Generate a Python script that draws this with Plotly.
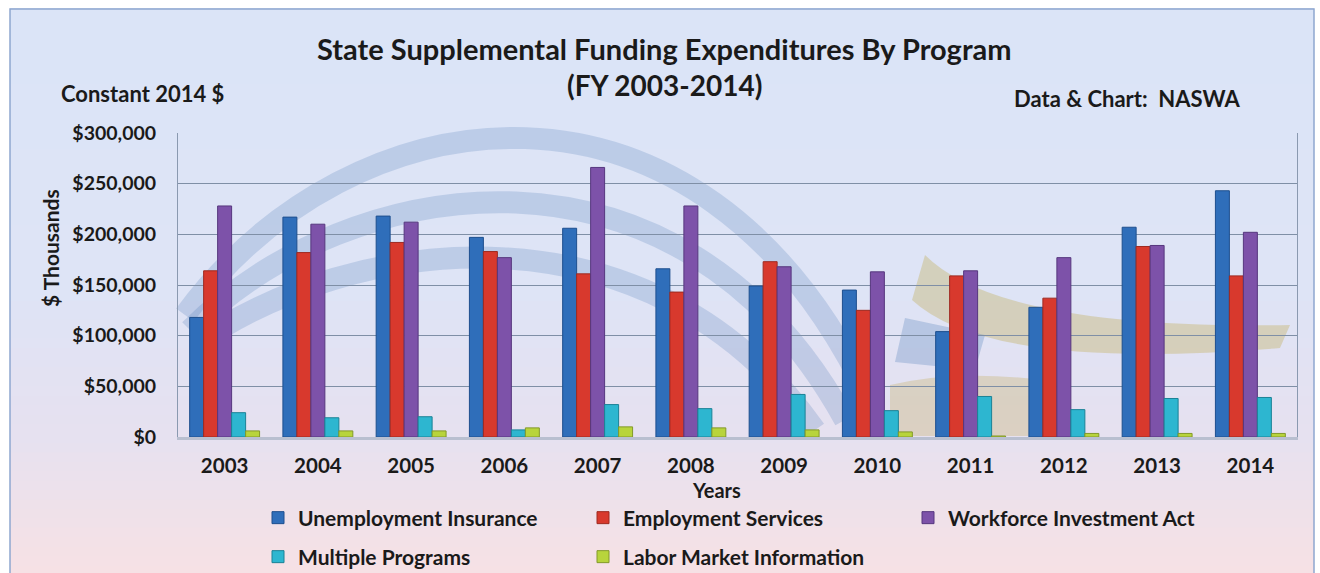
import plotly.graph_objects as go

years = ["2003", "2004", "2005", "2006", "2007", "2008", "2009", "2010", "2011", "2012", "2013", "2014"]

unemployment_insurance = [118000, 217000, 218000, 197000, 206000, 166000, 149000, 145000, 104000, 128000, 207000, 243000]
employment_services = [164000, 182000, 192000, 183000, 161000, 143000, 173000, 125000, 159000, 137000, 188000, 159000]
workforce_investment_act = [228000, 210000, 212000, 177000, 266000, 228000, 168000, 163000, 164000, 177000, 189000, 202000]
multiple_programs = [24000, 19000, 20000, 7000, 32000, 28000, 42000, 26000, 40000, 27000, 38000, 39000]
labor_market_information = [6000, 6000, 6000, 9000, 10000, 9000, 7000, 5000, 1000, 3500, 3500, 3500]

series_names = ["Unemployment Insurance", "Employment Services", "Workforce Investment Act",
                "Multiple Programs", "Labor Market Information"]
series_values = [unemployment_insurance, employment_services, workforce_investment_act,
                 multiple_programs, labor_market_information]
series_colors = ["#2F6EBA", "#D8392D", "#7D52A9", "#2DB6D0", "#B8D43C"]
series_lines = ["#1E4F8E", "#9E2A20", "#56377E", "#1B8296", "#83992A"]
series_legend = ["legend", "legend", "legend", "legend2", "legend2"]

W, H = 1320, 573
ML, MR, MT, MB = 178, 23, 133, 136
PW, PH = W - ML - MR, H - MT - MB


def px(x):
    return (x - ML) / PW


def py(y):
    return (H - MB - y) / PH


FONT = "Lato"
TXT = "#1a1a1a"

fig = go.Figure()
for name, vals, col, lc, lg in zip(series_names, series_values, series_colors, series_lines, series_legend):
    fig.add_trace(go.Bar(x=years, y=vals, name=name, legend=lg,
                         marker=dict(color=col, line=dict(color=lc, width=1))))

shapes = []
# background gradient (decoration)
stops = [(8, (219, 229, 248)), (300, (223, 228, 246)), (440, (231, 225, 240)), (575, (247, 226, 229))]
nb = 60
for i in range(nb):
    y0 = 8 + (575 - 8) * i / nb
    y1 = 8 + (575 - 8) * (i + 1) / nb + 1
    ym = (y0 + y1) / 2
    for (a, ca), (b, cb) in zip(stops[:-1], stops[1:]):
        if a <= ym <= b:
            t = (ym - a) / (b - a)
            c = tuple(int(ca[k] + (cb[k] - ca[k]) * t) for k in range(3))
            break
    shapes.append(dict(type="rect", xref="paper", yref="paper", layer="below",
                       x0=px(10), x1=px(1314), y0=py(y1), y1=py(y0),
                       fillcolor="rgb(%d,%d,%d)" % c, line=dict(width=0)))
shapes.append(dict(type="rect", xref="paper", yref="paper", layer="below",
                   x0=px(10), x1=px(1314), y0=py(600), y1=py(9),
                   fillcolor="rgba(0,0,0,0)", line=dict(color="#8EA6CF", width=1.5)))


def P(x, y):
    return "%.5f,%.5f" % (px(x), py(y))


# faded logo watermark (decoration)
arcs = [
    [(185, 315), (350, 90), (700, 40), (870, 400)],
    [(190, 330), (350, 170), (680, 120), (845, 420)],
    [(195, 345), (350, 235), (650, 195), (815, 430)],
]
for a in arcs:
    d = "M" + P(*a[0]) + " C" + P(*a[1]) + " " + P(*a[2]) + " " + P(*a[3])
    shapes.append(dict(type="path", xref="paper", yref="paper", layer="below", path=d,
                       line=dict(color="rgba(60,110,175,0.2)", width=22)))
gold = "M" + P(925, 255) + " Q" + P(1000, 330) + " " + P(1290, 325) + " L" + P(1280, 348) + \
       " Q" + P(990, 372) + " " + P(912, 300) + " Z"
shapes.append(dict(type="path", xref="paper", yref="paper", layer="below", path=gold,
                   fillcolor="rgba(195,175,95,0.38)", line=dict(width=0)))
gold2 = "M" + P(890, 385) + " Q" + P(960, 368) + " " + P(1060, 382) + " L" + P(1040, 436) + \
        " L" + P(890, 436) + " Z"
shapes.append(dict(type="path", xref="paper", yref="paper", layer="below", path=gold2,
                   fillcolor="rgba(195,175,95,0.32)", line=dict(width=0)))
flag = "M" + P(905, 318) + " L" + P(985, 335) + " L" + P(975, 370) + " L" + P(895, 362) + " Z"
shapes.append(dict(type="path", xref="paper", yref="paper", layer="below", path=flag,
                   fillcolor="rgba(60,110,175,0.25)", line=dict(width=0)))

annotations = [
    dict(text="State Supplemental Funding Expenditures By Program", x=px(664), y=py(48),
         font=dict(size=29, family=FONT, color=TXT, weight="bold")),
    dict(text="(FY 2003-2014)", x=px(664), y=py(85),
         font=dict(size=28, family=FONT, color=TXT, weight="bold")),
    dict(text="Constant 2014 $", x=px(142), y=py(93),
         font=dict(size=22, family=FONT, color=TXT, weight="bold")),
    dict(text="Data & Chart:  NASWA", x=px(1127), y=py(98),
         font=dict(size=22, family=FONT, color=TXT, weight="bold")),
    dict(text="$ Thousands", x=px(50), y=py(248), textangle=-90,
         font=dict(size=21, family=FONT, color=TXT, weight="bold")),
    dict(text="Years", x=px(716), y=py(490),
         font=dict(size=20, family=FONT, color=TXT, weight="bold")),
]
for a in annotations:
    a.update(xref="paper", yref="paper", showarrow=False, xanchor="center", yanchor="middle")

fig.update_layout(
    width=W, height=H,
    margin=dict(l=ML, r=MR, t=MT, b=MB, autoexpand=False),
    paper_bgcolor="white",
    plot_bgcolor="rgba(0,0,0,0)",
    barmode="group", bargap=0.25, bargroupgap=0,
    shapes=shapes, annotations=annotations,
    font=dict(family=FONT, color=TXT),
    xaxis=dict(
        tickfont=dict(size=20.5, family=FONT, weight="bold"),
        ticks="outside", ticklen=8, tickcolor="rgba(0,0,0,0)",
        showline=True, linecolor="#B9BFD0", linewidth=3,
    ),
    yaxis=dict(
        range=[0, 300000], dtick=50000, tickprefix="$", tickformat=",",
        tickfont=dict(size=19.5, family=FONT, weight="bold"),
        ticks="outside", ticklen=17, tickcolor="rgba(0,0,0,0)",
        showgrid=True, gridcolor="#7F8FA6", gridwidth=1,
        showline=True, linecolor="#8A99B0", linewidth=1, mirror=True,
        zeroline=False,
    ),
    legend=dict(orientation="h", x=px(258), y=py(518), xanchor="left", yanchor="middle",
                entrywidth=280, entrywidthmode="pixels", bgcolor="rgba(0,0,0,0)",
                font=dict(size=21, family=FONT, weight="bold"), traceorder="normal"),
    legend2=dict(orientation="h", x=px(258), y=py(557), xanchor="left", yanchor="middle",
                 entrywidth=280, entrywidthmode="pixels", bgcolor="rgba(0,0,0,0)",
                 font=dict(size=21, family=FONT, weight="bold"), traceorder="normal"),
)

fig.write_html("out.html", config={"displayModeBar": False},
               post_script="document.documentElement.style.margin='0';document.body.style.margin='0';"
                           "document.body.style.overflow='hidden';")
